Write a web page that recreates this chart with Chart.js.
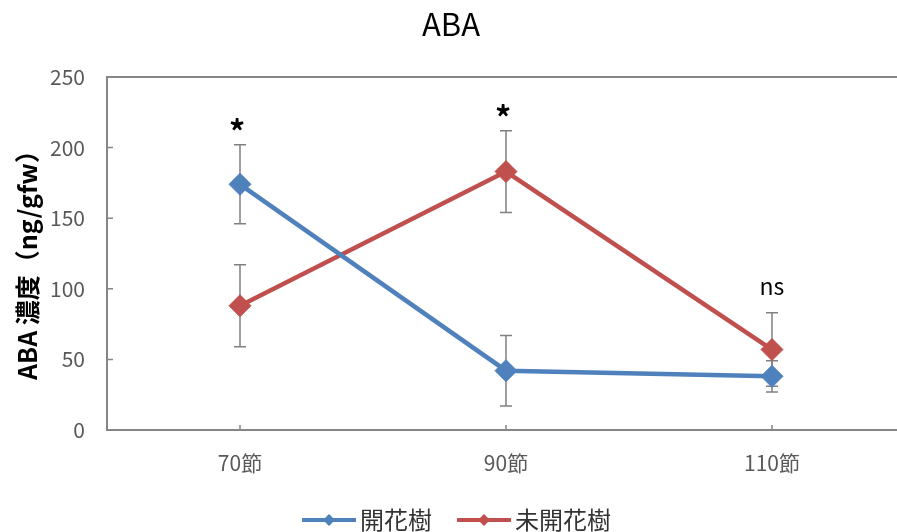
<!DOCTYPE html>
<html>
<head>
<meta charset="utf-8">
<script src="https://cdn.jsdelivr.net/npm/chart.js@4/dist/chart.umd.min.js"></script>
<style>
  html, body { margin: 0; padding: 0; background: #fff; overflow: hidden; }
</style>
</head>
<body>
<canvas id="c" width="897" height="532"></canvas>
<script>
// Nodes along the shoot
const categories = ['70節', '90節', '110節'];
// ABA concentration (ng/gfw), means
const flowering = [174, 42, 38];       // 開花樹
const nonFlowering = [88, 183, 57];    // 未開花樹
// Error bar half-lengths
const floweringErr = [28, 25, 11];
const nonFloweringErr = [29, 29, 26];
// Significance marks per node
const sigLabels = ['*', '*', 'ns'];
const yTicks = [0, 50, 100, 150, 200, 250];

const FONT = '"Noto Sans CJK JP", "Open Sans", sans-serif';
const BLUE = '#4F81BD';
const RED = '#C0504D';
const AXIS = '#868686';

const errors = [floweringErr, nonFloweringErr];
const toPoints = vals => vals.map((v, i) => ({ x: i, y: v }));

const decorPlugin = {
  id: 'decor',
  beforeDatasetsDraw(chart) {
    const ctx = chart.ctx;
    const x = chart.scales.x, y = chart.scales.y;
    ctx.save();
    ctx.strokeStyle = '#808080';
    ctx.lineWidth = 1.5;
    chart.data.datasets.forEach((ds, di) => {
      ds.data.forEach((p, i) => {
        const e = errors[di][i];
        const px = x.getPixelForValue(p.x);
        const top = y.getPixelForValue(p.y + e);
        const bot = y.getPixelForValue(p.y - e);
        ctx.beginPath();
        ctx.moveTo(px, top); ctx.lineTo(px, bot);
        ctx.moveTo(px - 6, top); ctx.lineTo(px + 6, top);
        ctx.moveTo(px - 6, bot); ctx.lineTo(px + 6, bot);
        ctx.stroke();
      });
    });
    ctx.restore();
  },
  afterDraw(chart) {
    const ctx = chart.ctx;
    const a = chart.chartArea;
    const x = chart.scales.x, y = chart.scales.y;
    ctx.save();
    // plot frame (continues past the right edge)
    ctx.strokeStyle = AXIS;
    ctx.lineWidth = 2;
    ctx.beginPath();
    ctx.moveTo(a.right + 5, a.top); ctx.lineTo(a.left, a.top);
    ctx.lineTo(a.left, a.bottom); ctx.lineTo(a.right + 5, a.bottom);
    ctx.stroke();
    // inner tick marks
    ctx.lineWidth = 1.5;
    ctx.beginPath();
    yTicks.forEach(t => {
      const py = y.getPixelForValue(t);
      ctx.moveTo(a.left, py); ctx.lineTo(a.left + 6, py);
    });
    categories.forEach((c, i) => {
      const px = x.getPixelForValue(i);
      ctx.moveTo(px, a.bottom); ctx.lineTo(px, a.bottom - 5);
    });
    ctx.stroke();

    // title
    ctx.fillStyle = '#000';
    ctx.textAlign = 'center';
    ctx.textBaseline = 'middle';
    ctx.font = '31px ' + FONT;
    ctx.fillText('ABA', 451, 24);

    // significance marks above the highest error bar
    sigLabels.forEach((s, i) => {
      const topVal = Math.max(flowering[i] + floweringErr[i], nonFlowering[i] + nonFloweringErr[i]);
      const py = y.getPixelForValue(topVal);
      const px = x.getPixelForValue(i);
      ctx.textBaseline = 'alphabetic';
      if (s === '*') {
        ctx.font = 'bold 32px ' + FONT;
        ctx.fillText(s, px - 3, py - 1);
      } else {
        ctx.font = '23px ' + FONT;
        ctx.fillText(s, px, py - 18);
      }
    });

    // y-axis title
    ctx.save();
    ctx.translate(27, 259);
    ctx.rotate(-Math.PI / 2);
    ctx.font = 'bold 25px ' + FONT;
    ctx.fillStyle = '#000';
    ctx.textBaseline = 'middle';
    ctx.fillText('ABA 濃度（ng/gfw）', 0, 0);
    ctx.restore();

    // legend
    const items = [
      { label: chart.data.datasets[0].label, color: BLUE, x: 302 },
      { label: chart.data.datasets[1].label, color: RED, x: 457 }
    ];
    const ly = 520;
    items.forEach(it => {
      ctx.strokeStyle = it.color;
      ctx.lineWidth = 4;
      ctx.beginPath();
      ctx.moveTo(it.x, ly); ctx.lineTo(it.x + 54, ly);
      ctx.stroke();
      ctx.fillStyle = it.color;
      const cx = it.x + 27, r = 6;
      ctx.beginPath();
      ctx.moveTo(cx - r, ly); ctx.lineTo(cx, ly - r); ctx.lineTo(cx + r, ly); ctx.lineTo(cx, ly + r);
      ctx.closePath(); ctx.fill();
      ctx.fillStyle = '#333';
      ctx.font = '24px ' + FONT;
      ctx.textAlign = 'left';
      ctx.textBaseline = 'middle';
      ctx.fillText(it.label, it.x + 58, ly);
    });
    ctx.restore();
  }
};

new Chart(document.getElementById('c'), {
  type: 'line',
  data: {
    datasets: [
      {
        label: '開花樹', data: toPoints(flowering),
        borderColor: BLUE, backgroundColor: BLUE, borderWidth: 4.5,
        pointStyle: 'rectRot', pointRadius: 11, pointBorderWidth: 1,
        pointBackgroundColor: BLUE, pointBorderColor: BLUE, tension: 0
      },
      {
        label: '未開花樹', data: toPoints(nonFlowering),
        borderColor: RED, backgroundColor: RED, borderWidth: 4.5,
        pointStyle: 'rectRot', pointRadius: 11, pointBorderWidth: 1,
        pointBackgroundColor: RED, pointBorderColor: RED, tension: 0
      }
    ]
  },
  options: {
    responsive: false,
    animation: false,
    clip: false,
    layout: { autoPadding: false, padding: { top: 77, left: 0, right: 0, bottom: 0 } },
    plugins: { legend: { display: false }, title: { display: false }, tooltip: { enabled: false } },
    scales: {
      x: {
        type: 'linear',
        // half a category of room on the left; the plot is cut off at the right edge
        min: -0.5, max: 2.47,
        afterBuildTicks(s) { s.ticks = categories.map((c, i) => ({ value: i })); },
        grid: { display: false, drawTicks: false },
        border: { display: false },
        ticks: {
          color: '#595959', font: { family: FONT, size: 21 }, padding: 20,
          callback: v => categories[v]
        },
        afterFit(s) { s.height = 102; s.paddingLeft = 0; s.paddingRight = 0; }
      },
      y: {
        min: 0, max: 250,
        afterBuildTicks(s) { s.ticks = yTicks.map(v => ({ value: v })); },
        grid: { display: false, drawTicks: false },
        border: { display: false },
        ticks: { color: '#595959', font: { family: FONT, size: 21 }, padding: 22 },
        afterFit(s) { s.width = 107; s.paddingTop = 0; s.paddingBottom = 0; }
      }
    }
  },
  plugins: [decorPlugin]
});
</script>
</body>
</html>
